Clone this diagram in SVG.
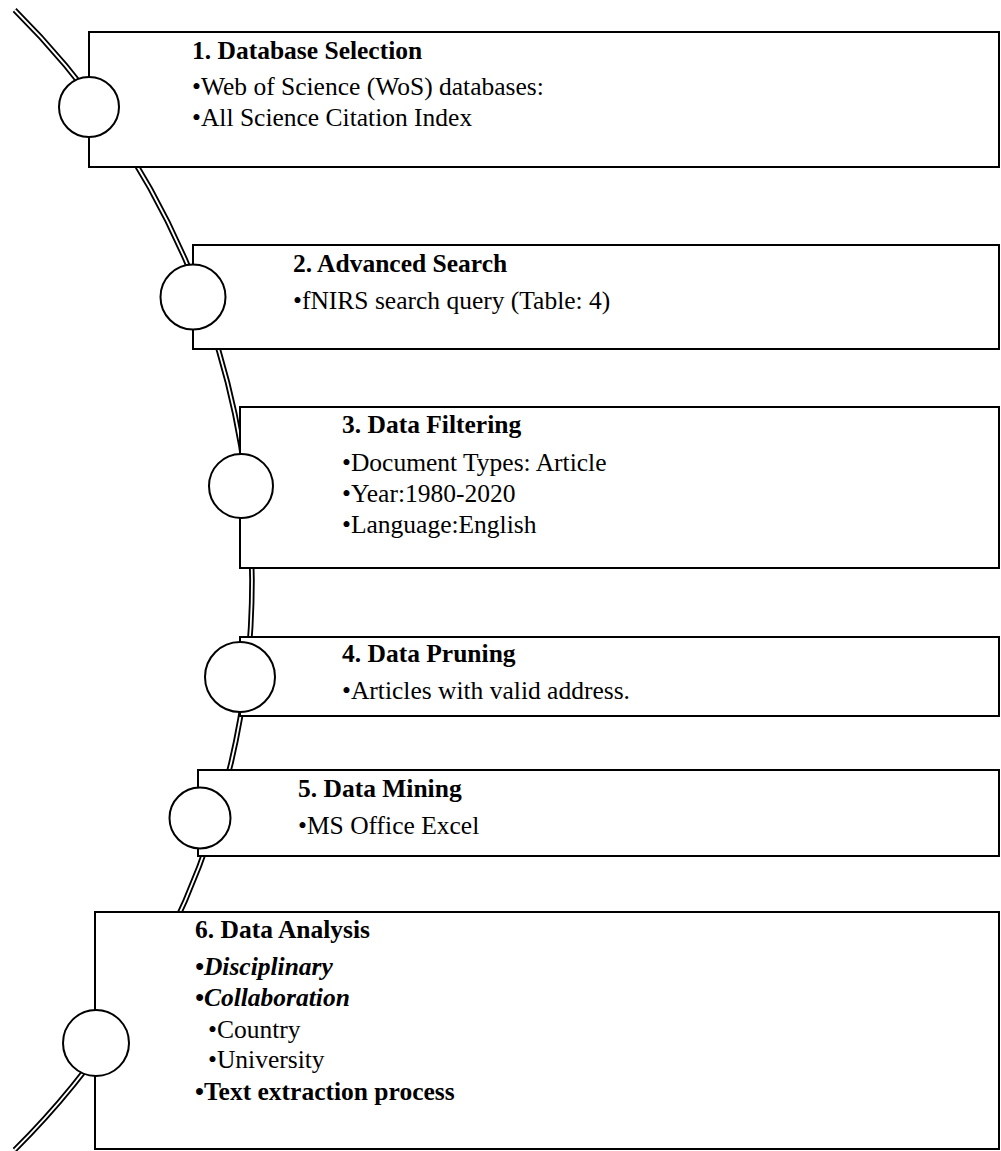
<svg xmlns="http://www.w3.org/2000/svg" width="1001" height="1151" viewBox="0 0 1001 1151">
  <defs>
    <style>
      .box { fill: #ffffff; stroke: #000000; stroke-width: 2; }
      .dot { fill: #ffffff; stroke: #000000; stroke-width: 2; }
      .rail-out { fill: none; stroke: #000000; stroke-width: 5.5; }
      .rail-in { fill: none; stroke: #ffffff; stroke-width: 1.8; }
      text { font-family: "Liberation Serif", "Times New Roman", serif; font-size: 25.5px; fill: #000000; }
      .title { font-weight: bold; }
      .bi { font-weight: bold; font-style: italic; }
      .b { font-weight: bold; }
    </style>
  </defs>
  <rect width="1001" height="1151" fill="#ffffff"/>

  <!-- timeline rail: one arc of a large circle, drawn as a double line -->
  <g id="connectors">
    <path class="rail-out" d="M 14.6 10 A 803 803 0 0 1 14.6 1150"/>
    <path class="rail-in" d="M 14.6 10 A 803 803 0 0 1 14.6 1150"/>
  </g>

  <g id="step1">
    <rect class="box" x="89" y="32" width="910" height="135"/>
    <circle class="dot" cx="89" cy="107" r="30"/>
    <text class="title" x="192" y="59">1. Database Selection</text>
    <text x="192" y="95">•Web of Science (WoS) databases:</text>
    <text x="192" y="126">•All Science Citation Index</text>
  </g>

  <g id="step2">
    <rect class="box" x="193" y="245" width="806" height="104"/>
    <circle class="dot" cx="193" cy="297" r="32.5"/>
    <text class="title" x="293" y="272">2. Advanced Search</text>
    <text x="293" y="309">•fNIRS search query (Table: 4)</text>
  </g>

  <g id="step3">
    <rect class="box" x="240" y="407" width="759" height="161"/>
    <circle class="dot" cx="241" cy="486" r="32"/>
    <text class="title" x="342" y="433">3. Data Filtering</text>
    <text x="342" y="471">•Document Types: Article</text>
    <text x="342" y="502">•Year:1980-2020</text>
    <text x="342" y="533">•Language:English</text>
  </g>

  <g id="step4">
    <rect class="box" x="240" y="637" width="759" height="79"/>
    <circle class="dot" cx="240" cy="677" r="35"/>
    <text class="title" x="342" y="662">4. Data Pruning</text>
    <text x="342" y="699">•Articles with valid address.</text>
  </g>

  <g id="step5">
    <rect class="box" x="198" y="770" width="801" height="86"/>
    <circle class="dot" cx="200" cy="818" r="30.5"/>
    <text class="title" x="298" y="797">5. Data Mining</text>
    <text x="298" y="834">•MS Office Excel</text>
  </g>

  <g id="step6">
    <rect class="box" x="95" y="912" width="904" height="237"/>
    <circle class="dot" cx="96" cy="1043" r="33"/>
    <text class="title" x="195" y="938">6. Data Analysis</text>
    <text class="bi" x="195" y="975">•Disciplinary</text>
    <text class="bi" x="195" y="1006">•Collaboration</text>
    <text x="208" y="1038">•Country</text>
    <text x="208" y="1068">•University</text>
    <text class="b" x="195" y="1100">•Text extraction process</text>
  </g>
</svg>
